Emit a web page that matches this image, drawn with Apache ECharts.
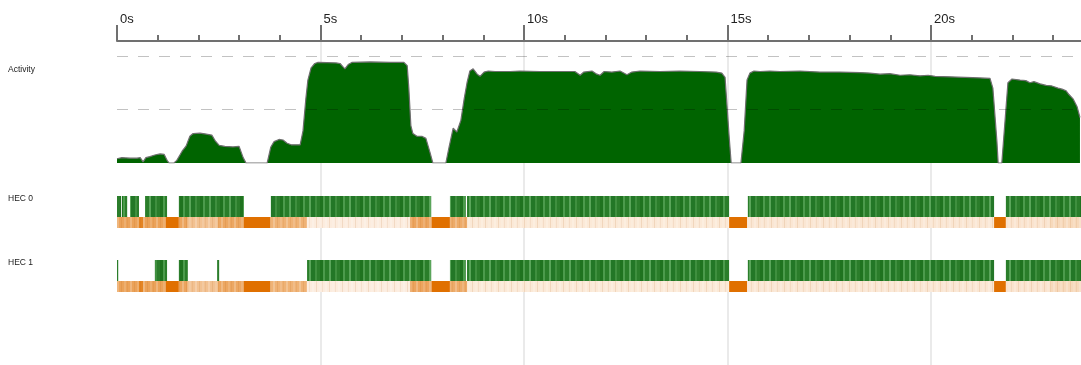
<!DOCTYPE html>
<html>
<head>
<meta charset="utf-8">
<script src="https://cdn.jsdelivr.net/npm/echarts@6/dist/echarts.min.js"></script>
<style>
  html, body { margin: 0; padding: 0; background: #fff; }
  #chart { width: 1081px; height: 365px; }
</style>
</head>
<body>
<div id="chart"></div>
<script>
// ---- data -------------------------------------------------------------

// major tick labels on the time axis (seconds)
const tickLabels = ['0s', '5s', '10s', '15s', '20s'];

// reference levels on the activity scale (busy capabilities)
const activityLevels = [1, 2];

// activity profile: [time (s), number of busy capabilities]
const activity = [
  [0.00, 0.08], [0.12, 0.10], [0.32, 0.09], [0.49, 0.09], [0.57, 0.10], [0.64, 0.02],
  [0.71, 0.10], [0.81, 0.12], [0.93, 0.15], [1.06, 0.17], [1.16, 0.16], [1.23, 0.05],
  [1.28, 0.00], [1.40, 0.00], [1.47, 0.05], [1.60, 0.22], [1.70, 0.32], [1.79, 0.50],
  [1.87, 0.55], [2.04, 0.56], [2.19, 0.54], [2.33, 0.52], [2.41, 0.42], [2.51, 0.33],
  [2.65, 0.31], [2.85, 0.30], [3.00, 0.31], [3.10, 0.10], [3.17, 0.00], [3.69, 0.00],
  [3.78, 0.30], [3.86, 0.40], [3.98, 0.44], [4.08, 0.43], [4.18, 0.37], [4.28, 0.34],
  [4.50, 0.34], [4.57, 0.60], [4.64, 1.20], [4.69, 1.55], [4.77, 1.78], [4.86, 1.86],
  [4.94, 1.88], [5.38, 1.87], [5.48, 1.86], [5.55, 1.80], [5.60, 1.76], [5.68, 1.84],
  [5.77, 1.88], [6.22, 1.89], [6.71, 1.88], [7.05, 1.88], [7.13, 1.82], [7.17, 1.40],
  [7.22, 0.70], [7.27, 0.55], [7.37, 0.50], [7.49, 0.50], [7.59, 0.46], [7.69, 0.20],
  [7.76, 0.00], [8.08, 0.00], [8.16, 0.30], [8.26, 0.65], [8.35, 0.58], [8.45, 0.80],
  [8.53, 1.20], [8.60, 1.50], [8.67, 1.72], [8.75, 1.76], [8.85, 1.66], [8.92, 1.62],
  [9.02, 1.70], [9.12, 1.72], [9.29, 1.71], [9.66, 1.71], [9.90, 1.72], [10.39, 1.71],
  [11.25, 1.71], [11.38, 1.64], [11.47, 1.70], [11.67, 1.72], [11.79, 1.66], [11.87, 1.64],
  [11.97, 1.71], [12.16, 1.70], [12.36, 1.72], [12.53, 1.65], [12.65, 1.70], [12.85, 1.72],
  [13.34, 1.71], [13.83, 1.72], [14.32, 1.71], [14.72, 1.70], [14.86, 1.68], [14.94, 1.60],
  [15.04, 0.50], [15.09, 0.00], [15.33, 0.00], [15.41, 0.60], [15.48, 1.55], [15.55, 1.68],
  [15.65, 1.72], [15.80, 1.71], [16.04, 1.72], [16.29, 1.71], [16.78, 1.72], [17.27, 1.70],
  [17.76, 1.70], [18.26, 1.69], [18.50, 1.68], [18.75, 1.66], [18.99, 1.67], [19.24, 1.64],
  [19.48, 1.65], [19.73, 1.63], [19.93, 1.64], [20.10, 1.62], [20.47, 1.61], [20.84, 1.60],
  [21.20, 1.59], [21.45, 1.58], [21.52, 1.40], [21.62, 0.40], [21.65, 0.00], [21.74, 0.00],
  [21.82, 0.80], [21.89, 1.50], [21.99, 1.57], [22.19, 1.55], [22.33, 1.54], [22.43, 1.50],
  [22.53, 1.52], [22.68, 1.48], [22.83, 1.45], [22.97, 1.44], [23.12, 1.40], [23.22, 1.38],
  [23.32, 1.35], [23.39, 1.28], [23.49, 1.20], [23.59, 1.05], [23.66, 0.85]
];

// running mutator intervals per capability: [start (s), end (s)]
const hec0Running = [
  [0.00, 0.10], [0.12, 0.25], [0.32, 0.54], [0.69, 1.23], [1.52, 3.12], [3.78, 7.72],
  [8.18, 8.57], [8.60, 15.04], [15.50, 21.55], [21.84, 24.00]
];
const hec1Running = [
  [0.00, 0.03], [0.93, 1.23], [1.52, 1.74], [2.46, 2.51], [4.67, 7.72],
  [8.18, 8.57], [8.60, 15.04], [15.50, 21.55], [21.84, 24.00]
];

// garbage collection load: [start (s), end (s), fraction of time in GC]
const gcLoad = [
  [0.00, 0.54, 0.62], [0.54, 0.64, 0.85], [0.64, 1.20, 0.62], [1.20, 1.52, 1.00],
  [1.52, 1.74, 0.60], [1.74, 2.48, 0.38], [2.48, 3.12, 0.58], [3.12, 3.76, 1.00],
  [3.76, 4.67, 0.50], [4.67, 7.20, 0.05], [7.20, 7.74, 0.60], [7.74, 8.18, 1.00],
  [8.18, 8.60, 0.55], [8.60, 15.04, 0.08], [15.04, 15.48, 1.00], [15.48, 21.55, 0.10],
  [21.55, 21.84, 1.00], [21.84, 22.92, 0.12], [22.92, 24.00, 0.20]
];

// ---- layout -----------------------------------------------------------

const LEFT = 117;            // x of t = 0
const PX_PER_S = 40.7;
const X_MAX = 25;
const GRID_RIGHT = 1081 - LEFT - X_MAX * PX_PER_S;
const FONT = '"Liberation Sans", Arial, sans-serif';

// rows inside the capability grid (pixels from its top)
const ROWS = [
  { runTop: 0,  runBottom: 21, gcTop: 21, gcBottom: 32 },
  { runTop: 64, runBottom: 85, gcTop: 85, gcBottom: 96 }
];

// ---- textures ---------------------------------------------------------

function stripes(width, bands, base) {
  const c = document.createElement('canvas');
  c.width = width; c.height = 4;
  const g = c.getContext('2d');
  if (base) { g.fillStyle = base; g.fillRect(0, 0, width, 4); }
  bands.forEach(([x, w, col]) => { g.fillStyle = col; g.fillRect(x, 0, w, 4); });
  return { image: c, repeat: 'repeat' };
}

const runFill = stripes(20, [
  [0, 3, '#1f731f'], [3, 2, '#4c9b4c'], [5, 4, '#2a7e2a'], [9, 2, '#5aa55a'],
  [11, 4, '#237727'], [15, 2, '#3f8f3f'], [17, 3, '#2b7d2b']
]);

const gcGrain = stripes(13, [
  [0, 2, 'rgba(255,255,255,0.22)'], [4, 1, 'rgba(170,80,0,0.12)'],
  [7, 2, 'rgba(255,255,255,0.14)'], [10, 1, 'rgba(170,80,0,0.08)']
]);

function gcColor(f) {
  const pale = [253, 243, 234], full = [224, 112, 0];
  const c = pale.map((p, i) => Math.round(p + (full[i] - p) * f));
  return 'rgb(' + c.join(',') + ')';
}

// ---- chart ------------------------------------------------------------

const chart = echarts.init(document.getElementById('chart'), null, { renderer: 'canvas' });

const runData = []
  .concat(hec0Running.map(r => [r[0], r[1], 0]))
  .concat(hec1Running.map(r => [r[0], r[1], 1]));

const gcData = []
  .concat(gcLoad.map(g => [g[0], g[1], 0, g[2]]))
  .concat(gcLoad.map(g => [g[0], g[1], 1, g[2]]));

function rectFor(api, s, e, y0, y1) {
  const p0 = api.coord([s, y0]);
  const p1 = api.coord([e, y1]);
  return { x: p0[0], y: p0[1], width: p1[0] - p0[0], height: p1[1] - p0[1] };
}

const gridBase = { left: LEFT, right: GRID_RIGHT, containLabel: false, outerBoundsMode: 'none' };

chart.setOption({
  animation: false,
  grid: [
    Object.assign({ top: 41, bottom: 0 }, gridBase),
    Object.assign({ top: 56, height: 107 }, gridBase),
    Object.assign({ top: 196, height: 96 }, gridBase)
  ],
  xAxis: [
    {
      gridIndex: 0, type: 'value', position: 'top', min: 0, max: X_MAX, interval: 5,
      axisLine: { onZero: false, lineStyle: { color: '#707070', width: 2 } },
      axisTick: { length: 16, lineStyle: { color: '#707070', width: 2 } },
      minorTick: { show: true, splitNumber: 5, length: 6, lineStyle: { color: '#707070', width: 2 } },
      axisLabel: {
        margin: 15, align: 'left', padding: [0, 0, 0, 3], showMaxLabel: false,
        fontSize: 13, color: '#222', fontFamily: FONT,
        formatter: v => tickLabels[Math.round(v / 5)] || ''
      },
      splitLine: { show: true, showMinLine: false, showMaxLine: false, lineStyle: { color: '#e3e3e3', width: 1.5 } },
      minorSplitLine: { show: false }
    },
    { gridIndex: 1, type: 'value', min: 0, max: X_MAX, show: false },
    { gridIndex: 2, type: 'value', min: 0, max: X_MAX, show: false }
  ],
  yAxis: [
    { gridIndex: 0, type: 'value', min: 0, max: 1, show: false },
    { gridIndex: 1, type: 'value', min: 0, max: 2, interval: 1, show: false },
    { gridIndex: 2, type: 'value', min: 0, max: 96, inverse: true, show: false }
  ],
  graphic: [
    { type: 'text', x: 8, y: 70, style: { text: 'Activity', font: '8.5px ' + FONT, fill: '#222', verticalAlign: 'middle' } },
    { type: 'text', x: 8, y: 199, style: { text: 'HEC 0', font: '8.5px ' + FONT, fill: '#222', verticalAlign: 'middle' } },
    { type: 'text', x: 8, y: 263, style: { text: 'HEC 1', font: '8.5px ' + FONT, fill: '#222', verticalAlign: 'middle' } }
  ],
  series: [
    {
      name: 'Activity', type: 'line', xAxisIndex: 1, yAxisIndex: 1,
      data: activity, symbol: 'none', showSymbol: false, smooth: false,
      lineStyle: { color: '#6e6e6e', width: 1.2 },
      areaStyle: { color: '#006400', opacity: 1 },
      // dashed capability levels drawn over the filled profile
      markLine: {
        silent: true, symbol: ['none', 'none'], label: { show: false },
        lineStyle: { color: 'rgba(0,0,0,0.24)', type: [11, 10], width: 1 },
        data: activityLevels.map(v => ({ yAxis: v }))
      },
      z: 2
    },
    {
      name: 'Running', type: 'custom', xAxisIndex: 2, yAxisIndex: 2,
      data: runData,
      renderItem: (params, api) => {
        const row = ROWS[api.value(2)];
        return {
          type: 'rect',
          shape: rectFor(api, api.value(0), api.value(1), row.runTop, row.runBottom),
          style: { fill: runFill }
        };
      },
      z: 2
    },
    {
      name: 'GC', type: 'custom', xAxisIndex: 2, yAxisIndex: 2,
      data: gcData,
      renderItem: (params, api) => {
        const row = ROWS[api.value(2)];
        const load = api.value(3);
        const shape = rectFor(api, api.value(0), api.value(1), row.gcTop, row.gcBottom);
        const children = [{ type: 'rect', shape: shape, style: { fill: gcColor(load) } }];
        if (load < 0.95) children.push({ type: 'rect', shape: shape, style: { fill: gcGrain } });
        return { type: 'group', children: children };
      },
      z: 2
    }
  ]
});
</script>
</body>
</html>
